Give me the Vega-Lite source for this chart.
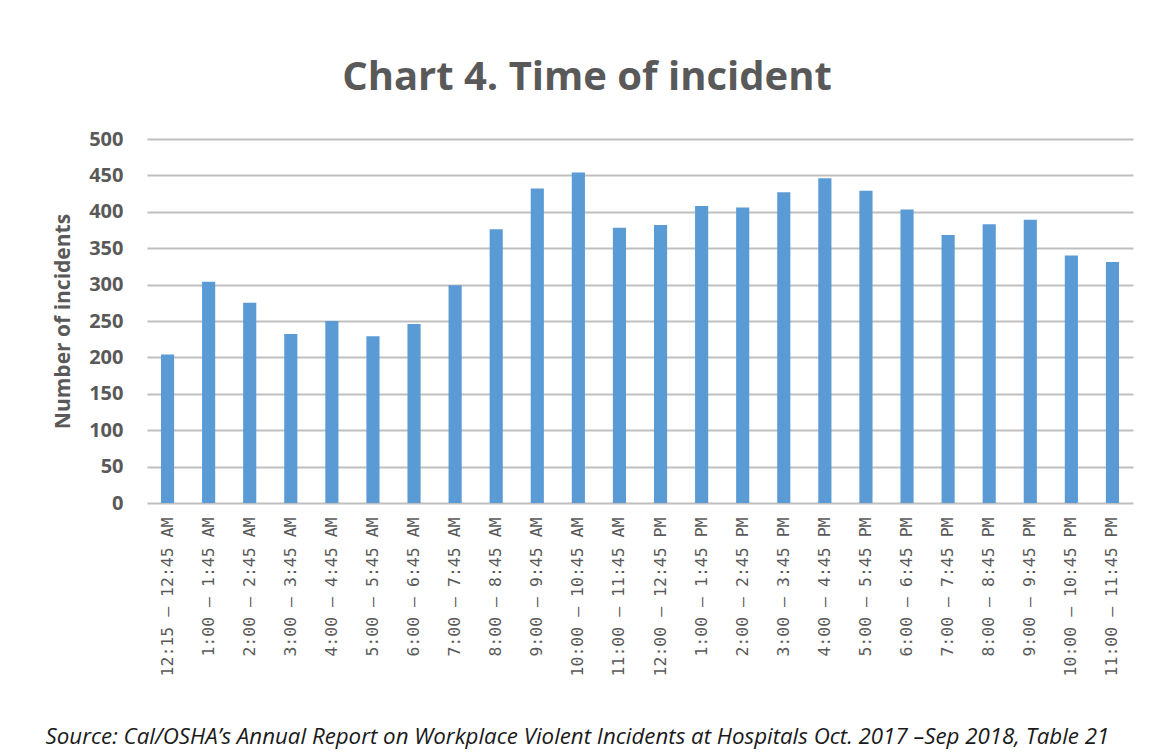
{
  "$schema": "https://vega.github.io/schema/vega-lite/v6.json",
  "autosize": {"type": "none"},
  "width": 986,
  "height": 364,
  "padding": {"left": 147, "top": 139, "right": 40, "bottom": 251},
  "background": "white",
  "title": {
    "text": "Chart 4. Time of incident",
    "font": "Open Sans",
    "fontSize": 40,
    "fontWeight": "bold",
    "color": "#595959",
    "anchor": "middle",
    "frame": "group",
    "dx": -53,
    "baseline": "alphabetic",
    "offset": -1
  },
  "data": {
    "values": [
      {"time": "12:15 – 12:45 AM", "incidents": 204},
      {"time": "1:00 – 1:45 AM", "incidents": 304},
      {"time": "2:00 – 2:45 AM", "incidents": 275},
      {"time": "3:00 – 3:45 AM", "incidents": 232},
      {"time": "4:00 – 4:45 AM", "incidents": 250},
      {"time": "5:00 – 5:45 AM", "incidents": 229},
      {"time": "6:00 – 6:45 AM", "incidents": 246},
      {"time": "7:00 – 7:45 AM", "incidents": 299},
      {"time": "8:00 – 8:45 AM", "incidents": 376},
      {"time": "9:00 – 9:45 AM", "incidents": 432},
      {"time": "10:00 – 10:45 AM", "incidents": 454},
      {"time": "11:00 – 11:45 AM", "incidents": 378},
      {"time": "12:00 – 12:45 PM", "incidents": 382},
      {"time": "1:00 – 1:45 PM", "incidents": 408},
      {"time": "2:00 – 2:45 PM", "incidents": 406},
      {"time": "3:00 – 3:45 PM", "incidents": 427},
      {"time": "4:00 – 4:45 PM", "incidents": 446},
      {"time": "5:00 – 5:45 PM", "incidents": 429},
      {"time": "6:00 – 6:45 PM", "incidents": 403},
      {"time": "7:00 – 7:45 PM", "incidents": 368},
      {"time": "8:00 – 8:45 PM", "incidents": 383},
      {"time": "9:00 – 9:45 PM", "incidents": 389},
      {"time": "10:00 – 10:45 PM", "incidents": 340},
      {"time": "11:00 – 11:45 PM", "incidents": 331}
    ]
  },
  "mark": {"type": "bar", "color": "#5B9BD5"},
  "encoding": {
    "x": {
      "field": "time",
      "type": "ordinal",
      "sort": null,
      "scale": {"paddingInner": 0.68, "paddingOuter": 0.34},
      "axis": {
        "title": "Source: Cal/OSHA’s Annual Report on Workplace Violent Incidents at Hospitals Oct. 2017 –Sep 2018, Table 21",
        "titleFont": "Open Sans",
        "titleFontSize": 22.3,
        "titleFontWeight": "normal",
        "titleFontStyle": "italic",
        "titleColor": "#1a1a1a",
        "titleAnchor": "start",
        "titleAlign": "left",
        "titleBaseline": "alphabetic",
        "titleX": -102,
        "titleY": 240,
        "labelAngle": -90,
        "labelFont": "DejaVu Sans Mono",
        "labelFontSize": 16.5,
        "labelColor": "#595959",
        "labelPadding": 14,
        "labelOverlap": false,
        "ticks": false,
        "domain": false,
        "grid": false
      }
    },
    "y": {
      "field": "incidents",
      "type": "quantitative",
      "scale": {"domain": [0, 500], "nice": false},
      "axis": {
        "title": "Number of incidents",
        "titleFont": "Open Sans",
        "titleFontSize": 21,
        "titleFontWeight": "bold",
        "titleColor": "#595959",
        "titleAngle": -90,
        "titleX": -84,
        "titleY": 182,
        "titleAlign": "center",
        "titleBaseline": "middle",
        "values": [0, 50, 100, 150, 200, 250, 300, 350, 400, 450, 500],
        "labelFont": "Open Sans",
        "labelFontSize": 20,
        "labelFontWeight": "bold",
        "labelColor": "#595959",
        "labelPadding": 24,
        "ticks": false,
        "domain": false,
        "grid": true,
        "gridColor": "#BFBFBF",
        "gridWidth": 2
      }
    }
  },
  "config": {
    "view": {"stroke": null}
  }
}
